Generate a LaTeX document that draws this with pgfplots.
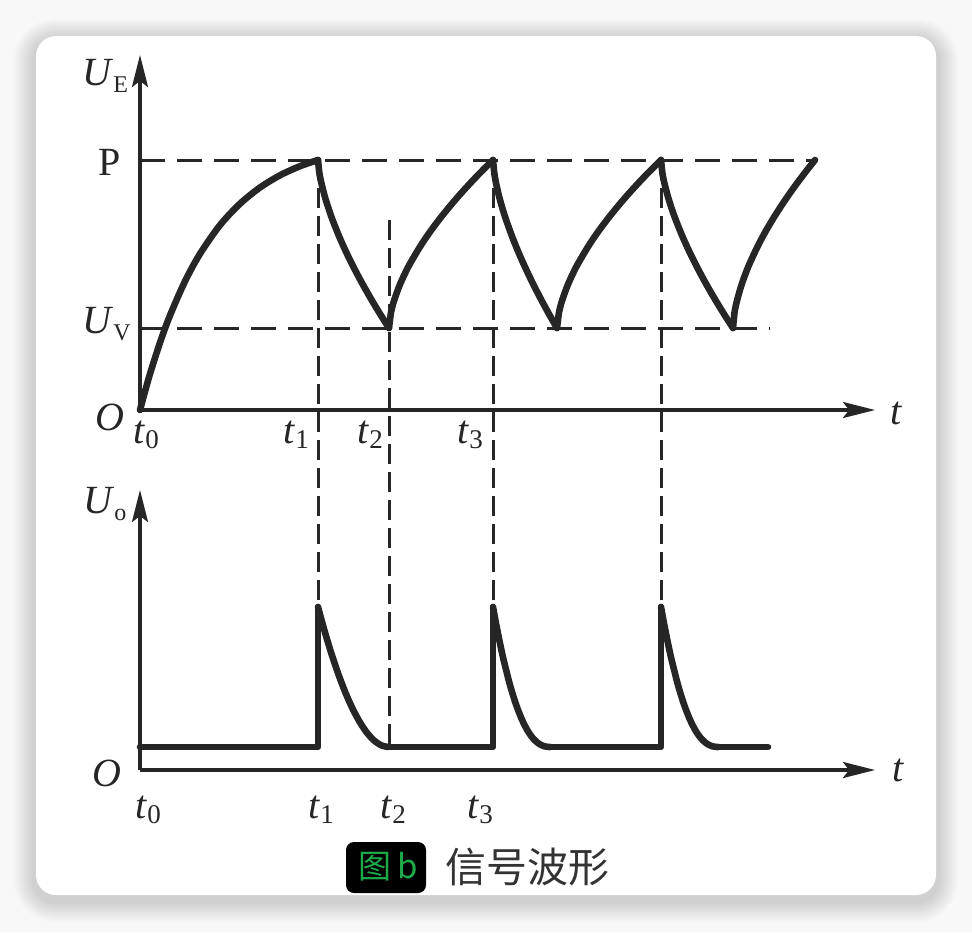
\documentclass[border=0pt]{standalone}
\usepackage{fontspec}
\setmainfont{Liberation Serif}
\newfontfamily\cjk{Noto Sans CJK SC}
\usepackage{pgfplots}
\pgfplotsset{compat=1.18}
\usetikzlibrary{arrows.meta}
\definecolor{ink}{HTML}{262626}
\definecolor{capgreen}{HTML}{1DAA4A}
\definecolor{bgc}{HTML}{F8F8F8}
\definecolor{captext}{HTML}{333333}
\newcommand{\Usub}[1]{\textit{U}\raisebox{-3.5pt}{\fontsize{12}{12}\selectfont #1}}
\newcommand{\tsub}[1]{\textit{t}\raisebox{-2.5pt}{\fontsize{13.5}{13.5}\selectfont #1}}
\pgfplotsset{
  wave/.style={axis lines=left, x=0.5pt, y=0.5pt, xmin=0, xmax=735, ymin=0,
    ticks=none, clip=false, enlargelimits=false, anchor=south west,
    axis line style={ink, line width=1.6pt, -{Stealth[length=16pt,width=8pt,inset=3pt]}}},
  curve/.style={ink, line width=3.3pt, line join=round, line cap=round, no markers},
}
\begin{document}
\begin{tikzpicture}[x=0.5pt,y=-0.5pt]
\fill[bgc] (0,0) rectangle (972,932);
\foreach \i in {1,...,10}{
  \pgfmathsetmacro\e{24-2*\i}
  \pgfmathsetmacro\r{10+\e/2}
  \fill[black,opacity=0.014,rounded corners=\r pt] (36-\e,36-\e+5) rectangle (936+\e,895+\e+5);
}
\fill[white, rounded corners=10pt] (36,36) rectangle (936,895);
% dashed guides
\draw[ink, line width=1.5pt, dash pattern=on 12.5pt off 6pt] (140,160) -- (817,160);
\draw[ink, line width=1.5pt, dash pattern=on 12.5pt off 6pt] (140,328) -- (770,328);
\draw[ink, line width=1.5pt, dash pattern=on 10pt off 4pt] (318,160) -- (318,607);
\draw[ink, line width=1.5pt, dash pattern=on 10pt off 4pt] (389,220) -- (389,747);
\draw[ink, line width=1.5pt, dash pattern=on 10pt off 4pt] (493,160) -- (493,607);
\draw[ink, line width=1.5pt, dash pattern=on 10pt off 4pt] (661,160) -- (661,607);
\coordinate (A1) at (140,410);
\coordinate (A2) at (140,770);
\begin{axis}[wave, at={(A1)}, ymax=355]
% charge 1
\addplot[curve, smooth] coordinates {(0,0) (5,18.5) (10,36.1) (20,67.4) (30,94.6) (45,128.7) (60,156.2) (80,184.9) (100,206.3) (120,222.5) (140,234.7) (160,243.8) (178,250)};
% discharge 1
\addplot[curve, smooth] coordinates {(178,250) (179.4,236.8) (181.6,226.0) (185.1,212.4) (188.7,201.1) (192.2,191.0) (199.3,173.2) (206.4,157.4) (213.5,143.0) (220.6,129.5) (227.7,116.8) (234.8,104.7) (241.9,93.1) (249,82)};
% charge 2
\addplot[curve, smooth] coordinates {(249,82) (251.1,98.1) (254.2,109.8) (259.4,124.2) (264.6,135.8) (269.8,146.0) (280.2,163.6) (290.6,179.0) (301,192.8) (311.4,205.6) (321.8,217.6) (332.2,228.9) (342.6,239.7) (353,250)};
% discharge 2
\addplot[curve, smooth] coordinates {(353,250) (354.3,236.8) (356.2,226.0) (359.4,212.4) (362.6,201.1) (365.8,191.0) (372.2,173.2) (378.6,157.4) (385,143.0) (391.4,129.5) (397.8,116.8) (404.2,104.7) (410.6,93.1) (417,82)};
% charge 3
\addplot[curve, smooth] coordinates {(417,82) (419.1,98.1) (422.2,109.8) (427.4,124.2) (432.6,135.8) (437.8,146.0) (448.2,163.6) (458.6,179.0) (469,192.8) (479.4,205.6) (489.8,217.6) (500.2,228.9) (510.6,239.7) (521,250)};
% discharge 3
\addplot[curve, smooth] coordinates {(521,250) (522.4,236.8) (524.6,226.0) (528.2,212.4) (531.8,201.1) (535.4,191.0) (542.6,173.2) (549.8,157.4) (557,143.0) (564.2,129.5) (571.4,116.8) (578.6,104.7) (585.8,93.1) (593,82)};
% charge 4
\addplot[curve, smooth] coordinates {(593,82) (594.6,98.1) (597.1,109.8) (601.2,124.2) (605.3,135.8) (609.4,146.0) (617.6,163.6) (625.8,179.0) (634,192.8) (642.2,205.6) (650.4,217.6) (658.6,228.9) (666.8,239.7) (675,250)};
\end{axis}
\begin{axis}[wave, at={(A2)}, ymax=280]
\addplot[curve] coordinates {(0,23) (178,23) (178,163)};
\addplot[curve, smooth] coordinates {(178,163) (181.5,150.0) (185,137.6) (188.5,125.8) (192,114.6) (199,94.1) (206,76.0) (213,60.5) (220,47.6) (227,37.2) (234,29.6) (241,24.8) (248,23)};
\addplot[curve] coordinates {(248,23) (353,23) (353,163)};
\addplot[curve, smooth] coordinates {(353,163) (355.85,147.4) (358.7,132.9) (361.55,119.3) (364.4,106.8) (370.1,84.6) (375.8,66.2) (381.5,51.4) (387.2,40.0) (392.9,31.8) (398.6,26.5) (404.3,23.7) (410,23)};
\addplot[curve] coordinates {(410,23) (521,23) (521,163)};
\addplot[curve, smooth] coordinates {(521,163) (523.85,147.4) (526.7,132.9) (529.55,119.3) (532.4,106.8) (538.1,84.6) (543.8,66.2) (549.5,51.4) (555.2,40.0) (560.9,31.8) (566.6,26.5) (572.3,23.7) (578,23)};
\addplot[curve] coordinates {(578,23) (628,23)};
\end{axis}
% labels
\begin{scope}[every node/.style={inner sep=0pt, anchor=base west, text=ink, font=\fontsize{20}{24}\selectfont}]
\node at (82,85) {\Usub{E}};
\node at (98,175) {P};
\node at (82,333) {\Usub{V}};
\node at (95,430) {\textit{O}};
\node at (133,443) {\tsub{0}};
\node at (283,443) {\tsub{1}};
\node at (357,443) {\tsub{2}};
\node at (457,443) {\tsub{3}};
\node at (890,424) {\textit{t}};
\node at (83,513) {\Usub{o}};
\node at (92,786) {\textit{O}};
\node at (135,818) {\tsub{0}};
\node at (308,818) {\tsub{1}};
\node at (380,818) {\tsub{2}};
\node at (467,818) {\tsub{3}};
\node at (892,781) {\textit{t}};
\end{scope}
% caption
\fill[black, rounded corners=4pt] (346,842) rectangle (426,893);
\node[inner sep=0pt, text=capgreen, font=\cjk\fontsize{16.5}{18}\selectfont] at (388,867) {图\,b};
\node[inner sep=0pt, anchor=west, text=captext, font=\cjk\fontsize{20.5}{24}\selectfont] at (445,867) {信号波形};
\end{tikzpicture}
\end{document}
